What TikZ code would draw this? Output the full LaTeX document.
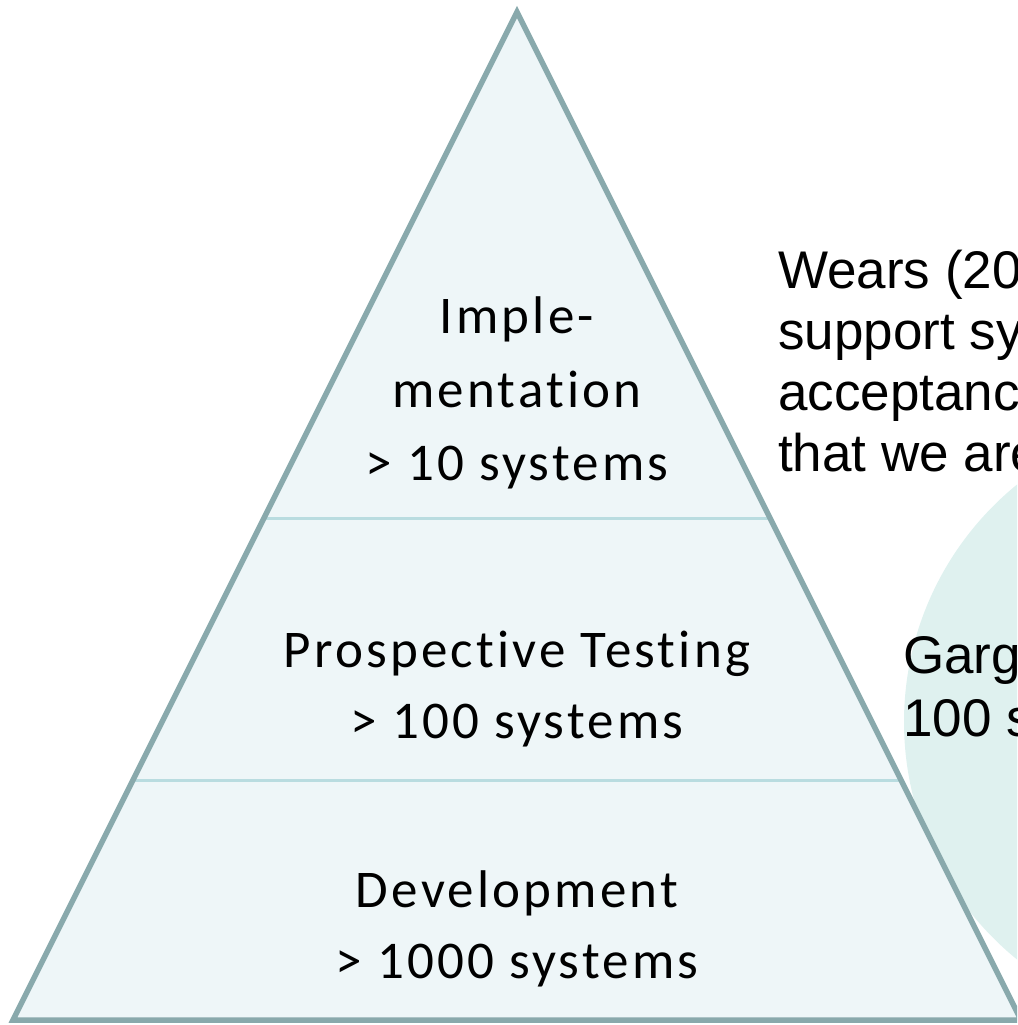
\documentclass[tikz,border=0pt]{standalone}
\usepackage{fontspec}
\setmainfont{Carlito}[Ligatures=NoCommon, LetterSpace=6]
\newfontfamily\notefont{Liberation Sans}
\definecolor{edgeteal}{HTML}{89A9AC}
\definecolor{tierfill}{HTML}{EEF6F8}
\definecolor{tierline}{HTML}{B9DCE0}
\definecolor{haloteal}{HTML}{DFF1EF}
\tikzset{
  tierlabel/.style={anchor=base, inner sep=0pt, font=\fontsize{53}{64}\selectfont},
  notetext/.style={anchor=base west, inner sep=0pt, font=\notefont\fontsize{53}{61}\selectfont},
}
\begin{document}
\begin{tikzpicture}[x=1pt,y=-1pt]
\useasboundingbox (0,0) rectangle (1017,1025);
\begin{scope}
\clip (0,0) rectangle (1017,1025);
% soft disc behind the right-hand notes
\fill[haloteal] (1210,722) circle (306);
% pyramid body
\coordinate (apex) at (517,12);
\coordinate (bl) at (13,1020);
\coordinate (br) at (1021,1020);
\fill[tierfill] (apex) -- (bl) -- (br) -- cycle;
% tier dividers
\coordinate (d1l) at (264,518);
\coordinate (d1r) at (770,518);
\coordinate (d2l) at (133,780);
\coordinate (d2r) at (901,780);
\draw[tierline, line width=3] (d1l) -- (d1r);
\draw[tierline, line width=3] (d2l) -- (d2r);
\draw[edgeteal, line width=5.5, line join=miter] (apex) -- (bl) -- (br) -- cycle;
% tier labels
\node[tierlabel] (t1a) at (517,333) {Imple-};
\node[tierlabel] (t1b) at (517,407) {mentation};
\node[tierlabel] (t1c) at (517,480) {> 10 systems};
\node[tierlabel] (t2a) at (517,667) {Prospective Testing};
\node[tierlabel] (t2b) at (517,738) {> 100 systems};
\node[tierlabel] (t3a) at (517,907) {Development};
\node[tierlabel] (t3b) at (517,978) {> 1000 systems};
% notes at the right
\node[notetext] (n1) at (778,288) {Wears (20};
\node[notetext] (n2) at (778,349) {support sy};
\node[notetext] (n3) at (778,410) {acceptanc};
\node[notetext] (n4) at (778,471) {that we are};
\node[notetext] (g1) at (903,673) {Garg};
\node[notetext] (g2) at (903,736) {100 s};
\end{scope}
\end{tikzpicture}
\end{document}
